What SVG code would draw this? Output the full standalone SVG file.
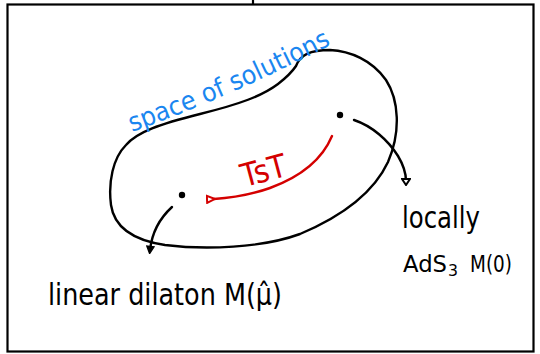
<svg xmlns="http://www.w3.org/2000/svg" width="540" height="354" viewBox="0 0 540 354">
<defs>
<style>
.frame{fill:none;stroke:#000;stroke-width:2.2}
.ink{fill:none;stroke:#000;stroke-width:2.4;stroke-linecap:round;stroke-linejoin:round}
.red{fill:none;stroke:#d40000;stroke-width:2.4;stroke-linecap:round;stroke-linejoin:round}
.lbl{font-family:"DejaVu Sans","Liberation Sans",sans-serif;fill:#000}
.blue{font-family:"DejaVu Sans","Liberation Sans",sans-serif;fill:#1a86f0}
.redt{font-family:"DejaVu Sans","Liberation Sans",sans-serif;fill:#d40000}
</style>
<marker id="openR" viewBox="0 0 10 10" refX="2" refY="5" markerWidth="10" markerHeight="10" markerUnits="userSpaceOnUse" orient="auto">
<path d="M1,5 L9,1.5 L9,8.5 Z" fill="#fff" stroke="#d40000" stroke-width="2"/>
</marker>
<marker id="openB" viewBox="0 0 10 10" refX="5" refY="5" markerWidth="10" markerHeight="10" markerUnits="userSpaceOnUse" orient="auto">
<path d="M3,1 L9,5 L3,9 Z" fill="#fff" stroke="#000" stroke-width="2"/>
</marker>
<marker id="fillB" viewBox="0 0 10 10" refX="5" refY="5" markerWidth="9" markerHeight="9" markerUnits="userSpaceOnUse" orient="auto">
<path d="M1,1 L9,5 L1,9 Z" fill="#000" stroke="#000" stroke-width="1.5"/>
</marker>
</defs>
<rect width="540" height="354" fill="#fff"/>
<rect class="frame" x="7.5" y="4.5" width="526" height="347"/>
<line class="frame" x1="253" y1="0" x2="253" y2="4"/>

<g id="space">
<path class="ink" d="M296,66 C300,55 310,50 330,50 C350,51 372,60 386,80 C399,100 401,132 388,162 C374,192 345,215 300,234 C262,248 205,250 165,245 C132,240 114,226 111,205 C108,182 113,158 126,145 C137,132 160,124 200,114 C240,104 262,96 278,84 C287,77 292,72 296,66"/>
<path id="bluePath" d="M132,132 Q235,95 340,40" fill="none"/>
<text class="blue" font-size="26"><textPath href="#bluePath" textLength="218" lengthAdjust="spacingAndGlyphs">space of solutions</textPath></text>
</g>

<g id="dotA">
<circle cx="340" cy="115" r="3.2" fill="#000"/>
</g>
<g id="dotB">
<circle cx="182" cy="195" r="3.2" fill="#000"/>
</g>

<g id="labelLocally">
<text class="lbl" x="402" y="228" font-size="30" textLength="78" lengthAdjust="spacingAndGlyphs">locally</text>
<text class="lbl" x="403" y="272" font-size="23" textLength="44" lengthAdjust="spacingAndGlyphs">AdS</text>
<text class="lbl" x="448" y="276" font-size="15" textLength="10" lengthAdjust="spacingAndGlyphs">3</text>
<text class="lbl" x="470" y="272" font-size="23" textLength="42" lengthAdjust="spacingAndGlyphs">M(0)</text>
</g>

<g id="labelLinear">
<text class="lbl" x="48" y="305" font-size="30" textLength="234" lengthAdjust="spacingAndGlyphs">linear dilaton M(μ̂)</text>
</g>

<g id="tst">
<text class="redt" x="239" y="182" font-size="32" transform="rotate(-15 262 165)" textLength="46" lengthAdjust="spacingAndGlyphs">TsT</text>
</g>

<g id="connectors">
<path class="ink" d="M354,120 C372,126 388,140 398,156 C404,166 406,174 406,181" marker-end="url(#openB)"/>
<path class="ink" d="M172,207 C160,218 152,232 150,250" marker-end="url(#fillB)"/>
<path class="red" d="M332,136 C322,160 300,177 270,188 C250,195 232,198 214,199" marker-end="url(#openR)"/>
</g>
</svg>
